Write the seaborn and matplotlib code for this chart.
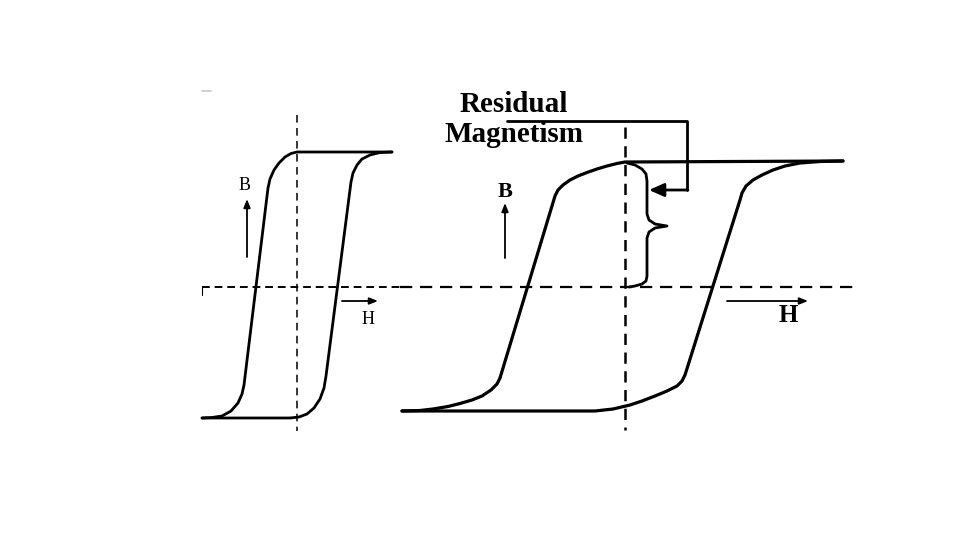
from matplotlib import pyplot as plt
import seaborn as sns

# Everything is in pixel coordinates of the 960x540 picture (y grows downward).

# narrow loop on the left
left_up_x = [202, 212, 222, 231, 238, 242, 244, 268, 270, 274, 279, 285, 291, 297, 392]
left_up_y = [418, 417.5, 416, 411, 403, 394, 385, 188, 179, 170, 163, 157, 153.5, 152, 152]
left_down_x = [392, 380, 370, 362, 357, 353, 351, 326, 324, 320, 314, 307, 299, 290, 202]
left_down_y = [152, 152.5, 155, 159, 165, 173, 182, 376, 388, 399, 408, 414, 417, 418, 418]
left_axis_x = 297
left_axis_y = 287

# wide loop on the right
right_up_x = [402, 420, 433, 448, 460, 472, 482, 491, 497, 500, 555, 558, 563, 570, 578, 587, 597, 607, 617, 625, 843]
right_up_y = [411, 410.5, 409, 406.5, 403.5, 400, 396, 390, 384, 378, 196, 190, 185, 180, 176, 172.5, 169, 166, 163.5, 162, 161]
right_down_x = [843, 820, 800, 785, 773, 762, 753, 746, 742, 740, 685, 682, 677, 667, 655, 642, 630, 613, 595, 402]
right_down_y = [161, 161.5, 163, 166, 170, 175, 180, 186, 193, 200, 375, 381, 386, 391, 396, 401, 405, 409, 411, 411]
right_axis_x = 625
right_axis_y = 287

# curly brace marking the residual magnetism
brace_x = [627, 635, 642, 646, 647, 647, 649, 655, 667, 655, 649, 647, 647, 646, 642, 635, 629]
brace_y = [163, 165, 169, 174, 181, 214, 220, 224, 226, 228, 232, 238, 276, 281, 284, 286, 287]

# pointer from the label to the brace
pointer_x = [507, 687, 687]
pointer_y = [121, 121, 190]
pointer_tip = (649, 190)

sns.set_style("white")
plt.rcParams["font.family"] = ["Liberation Serif", "DejaVu Serif"]
plt.rcParams["text.color"] = "black"

fig = plt.figure(figsize=(9.6, 5.4), dpi=100)
ax = fig.add_axes([0, 0, 1, 1])
ax.set_xlim(0, 960)
ax.set_ylim(540, 0)
ax.axis("off")

# dashed axes
ax.plot([202, 400], [left_axis_y, left_axis_y], color="black", lw=1.4, ls=(0, (4, 2.5)))
ax.plot([400, 860], [right_axis_y, right_axis_y], color="black", lw=1.6, ls=(0, (5.5, 3.5)))
ax.plot([left_axis_x, left_axis_x], [115, 431], color="black", lw=1.1, ls=(0, (5, 3.5)))
ax.plot([right_axis_x, right_axis_x], [127, 430], color="black", lw=1.8, ls=(0, (4.5, 3)))
ax.plot([202, 202], [287, 295], color="black", lw=0.8)
ax.plot([202, 211], [91, 91], color="#c8c8c8", lw=1.2)

# loops
for xs, ys, w in [(left_up_x, left_up_y, 2.0), (left_down_x, left_down_y, 2.0),
                  (right_up_x, right_up_y, 2.3), (right_down_x, right_down_y, 2.3)]:
    sns.lineplot(x=xs, y=ys, sort=False, estimator=None, color="black", lw=w, ax=ax)

sns.lineplot(x=brace_x, y=brace_y, sort=False, estimator=None, color="black", lw=2.0, ax=ax)
sns.lineplot(x=pointer_x, y=pointer_y, sort=False, estimator=None, color="black", lw=2.0, ax=ax)
ax.annotate("", xy=pointer_tip, xytext=(pointer_x[-1] + 1, pointer_y[-1]),
            arrowprops=dict(arrowstyle="-|>,head_length=0.9,head_width=0.4", color="black", lw=2.0,
                            shrinkA=0, shrinkB=0))

# B / H arrows
arrow = dict(arrowstyle="-|>,head_length=0.5,head_width=0.2", color="black", lw=1.3, shrinkA=0, shrinkB=0)
ax.annotate("", xy=(247, 199), xytext=(247, 257), arrowprops=arrow)
ax.annotate("", xy=(378, 301), xytext=(342, 301), arrowprops=arrow)
ax.annotate("", xy=(505, 203), xytext=(505, 258), arrowprops=arrow)
ax.annotate("", xy=(808, 301), xytext=(727, 301), arrowprops=arrow)

ax.text(245, 186, "B", fontsize=13, color="black", ha="center", va="center")
ax.text(368, 320, "H", fontsize=13, color="black", ha="center", va="center")
ax.text(505, 192, "B", fontsize=16, fontweight="bold", color="black", ha="center", va="center")
ax.text(788, 315, "H", fontsize=18, fontweight="bold", color="black", ha="center", va="center")
ax.text(514, 105, "Residual", fontsize=21, fontweight="bold", color="black", ha="center", va="center")
ax.text(514, 134, "Magnetism", fontsize=21, fontweight="bold", color="black", ha="center", va="center")

fig.savefig("out.png", dpi=100, facecolor="white")
